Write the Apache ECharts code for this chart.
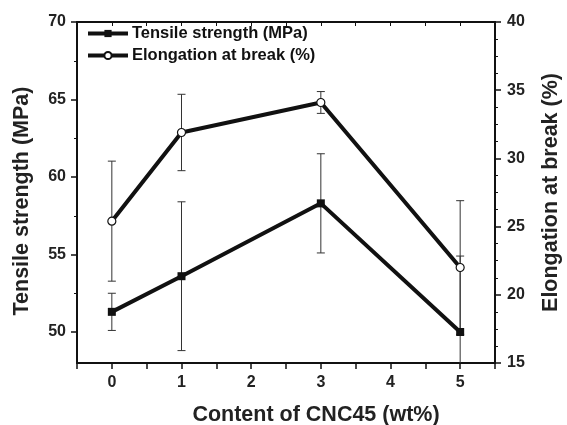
<!DOCTYPE html>
<html>
<head>
<meta charset="utf-8">
<script src="https://cdn.jsdelivr.net/npm/echarts@6/dist/echarts.min.js"></script>
<style>
html,body{margin:0;padding:0;background:#fff;}
#chart{width:567px;height:425px;}
</style>
</head>
<body>
<div id="chart"></div>
<script>
// ---- data ----
const contents = [0, 1, 3, 5];                       // CNC45 content (wt%)
const tensile = [51.3, 53.6, 58.3, 50.0];            // Tensile strength (MPa)
const tensileErr = [1.2, 4.8, 3.2, 4.9];
const elongation = [25.4, 31.9, 34.1, 22.0];         // Elongation at break (%)
const elongationErr = [4.4, 2.8, 0.8, 4.9];
const xTicks = [0, 1, 2, 3, 4, 5];
const leftTicks = [50, 55, 60, 65, 70];
const rightTicks = [15, 20, 25, 30, 35, 40];

const FONT = "'Liberation Sans', Arial, sans-serif";
const INK = '#111';

const leftMin = 48, leftMax = 70, rightMin = 15, rightMax = 40;

function pairs(xs, ys) { return xs.map((x, i) => [x, ys[i]]); }
function triples(xs, ys, es) { return xs.map((x, i) => [x, ys[i], es[i]]); }

function errRender(yMin, yMax) {
  return function (params, api) {
    const x = api.value(0), v = api.value(1), e = api.value(2);
    const hi = v + e, lo = v - e;
    const top = api.coord([x, Math.min(hi, yMax)]);
    const bot = api.coord([x, Math.max(lo, yMin)]);
    const cw = 4;
    const st = { stroke: '#333', lineWidth: 1 };
    const children = [{ type: 'line', shape: { x1: top[0], y1: top[1], x2: bot[0], y2: bot[1] }, style: st }];
    if (hi <= yMax) children.push({ type: 'line', shape: { x1: top[0] - cw, y1: top[1], x2: top[0] + cw, y2: top[1] }, style: st });
    if (lo >= yMin) children.push({ type: 'line', shape: { x1: bot[0] - cw, y1: bot[1], x2: bot[0] + cw, y2: bot[1] }, style: st });
    return { type: 'group', children: children };
  };
}

const labelStyle = { color: '#222', fontSize: 16, fontWeight: 'bold', fontFamily: FONT };
const nameStyle = { color: '#222', fontSize: 21.5, fontWeight: 'bold', fontFamily: FONT };
const axLine = { show: true, onZero: false, lineStyle: { color: INK, width: 2 } };

const chart = echarts.init(document.getElementById('chart'));
chart.setOption({
  animation: false,
  backgroundColor: '#fff',
  grid: [
    { left: 77, right: 72, top: 22, bottom: 62, containLabel: false, outerBoundsMode: 'none' },
    { left: 77, right: 72, top: 22, bottom: 93, containLabel: false, outerBoundsMode: 'none' }
  ],
  legend: {
    left: 86, top: 25, orient: 'vertical', padding: 0,
    itemWidth: 40, itemHeight: 9, itemGap: 5,
    data: ['Tensile strength (MPa)', 'Elongation at break (%)'],
    lineStyle: { width: 4 },
    textStyle: { color: INK, fontSize: 16.5, fontWeight: 'bold', fontFamily: FONT, padding: [0, 0, 0, -1] }
  },
  xAxis: [
    {
      type: 'value', gridIndex: 0, position: 'bottom', min: -0.5, max: 5.5, interval: 0.5,
      axisLine: axLine, splitLine: { show: false },
      axisTick: { length: 6, lineStyle: { color: INK, width: 1.5 } },
      axisLabel: Object.assign({ margin: 12, formatter: v => (xTicks.indexOf(Math.round(v * 1000) / 1000) >= 0 ? String(Math.round(v)) : '') }, labelStyle),
      name: 'Content of CNC45 (wt%)', nameLocation: 'middle', nameGap: 41,
      nameTextStyle: Object.assign({ padding: [0, 0, 0, 60] }, nameStyle)
    },
    {
      type: 'value', gridIndex: 0, position: 'top', min: -0.5, max: 5.5, interval: 0.5,
      axisLine: axLine, splitLine: { show: false },
      axisTick: { inside: true, length: 4, lineStyle: { color: INK, width: 1 } },
      axisLabel: { show: false }
    },
    { type: 'value', gridIndex: 1, min: -0.5, max: 5.5, show: false }
  ],
  yAxis: [
    {
      type: 'value', gridIndex: 0, position: 'left', min: leftMin, max: leftMax,
      axisLine: axLine, axisTick: { show: false }, axisLabel: { show: false }, splitLine: { show: false },
      name: 'Tensile strength (MPa)', nameLocation: 'middle', nameGap: 44, nameRotate: 90,
      nameTextStyle: Object.assign({ padding: [0, 17, 0, 0] }, nameStyle)
    },
    {
      type: 'value', gridIndex: 0, position: 'right', min: rightMin, max: rightMax, interval: 5,
      axisLine: axLine, splitLine: { show: false },
      axisTick: { length: 6, lineStyle: { color: INK, width: 1.5 } },
      minorTick: { show: true, splitNumber: 4, length: 3, lineStyle: { color: INK, width: 1 } },
      axisLabel: Object.assign({ margin: 12, formatter: v => (rightTicks.indexOf(v) >= 0 ? String(v) : '') }, labelStyle),
      name: 'Elongation at break (%)', nameLocation: 'middle', nameGap: 45, nameRotate: 90,
      nameTextStyle: nameStyle
    },
    {
      type: 'value', gridIndex: 1, position: 'left', min: 50, max: 70, interval: 5,
      axisLine: { show: false, onZero: false }, splitLine: { show: false },
      axisTick: { length: 6, lineStyle: { color: INK, width: 1.5 } },
      minorTick: { show: true, splitNumber: 2, length: 3, lineStyle: { color: INK, width: 1 } },
      axisLabel: Object.assign({ margin: 11, formatter: v => (leftTicks.indexOf(v) >= 0 ? String(v) : '') }, labelStyle)
    }
  ],
  series: [
    {
      type: 'custom', xAxisIndex: 0, yAxisIndex: 0, z: 1, clip: true,
      renderItem: errRender(leftMin, leftMax),
      encode: { x: 0, y: 1 },
      data: triples(contents, tensile, tensileErr)
    },
    {
      type: 'custom', xAxisIndex: 0, yAxisIndex: 1, z: 1, clip: true,
      renderItem: errRender(rightMin, rightMax),
      encode: { x: 0, y: 1 },
      data: triples(contents, elongation, elongationErr)
    },
    {
      name: 'Tensile strength (MPa)', type: 'line', xAxisIndex: 0, yAxisIndex: 0, z: 3,
      data: pairs(contents, tensile),
      symbol: 'rect', symbolSize: 8, showAllSymbol: true,
      lineStyle: { color: INK, width: 4 },
      itemStyle: { color: INK, borderColor: INK, borderWidth: 0 }
    },
    {
      name: 'Elongation at break (%)', type: 'line', xAxisIndex: 0, yAxisIndex: 1, z: 3,
      data: pairs(contents, elongation),
      symbol: 'circle', symbolSize: 8, showAllSymbol: true,
      lineStyle: { color: INK, width: 4 },
      itemStyle: { color: '#fff', borderColor: INK, borderWidth: 1.2 }
    }
  ]
});
</script>
</body>
</html>
